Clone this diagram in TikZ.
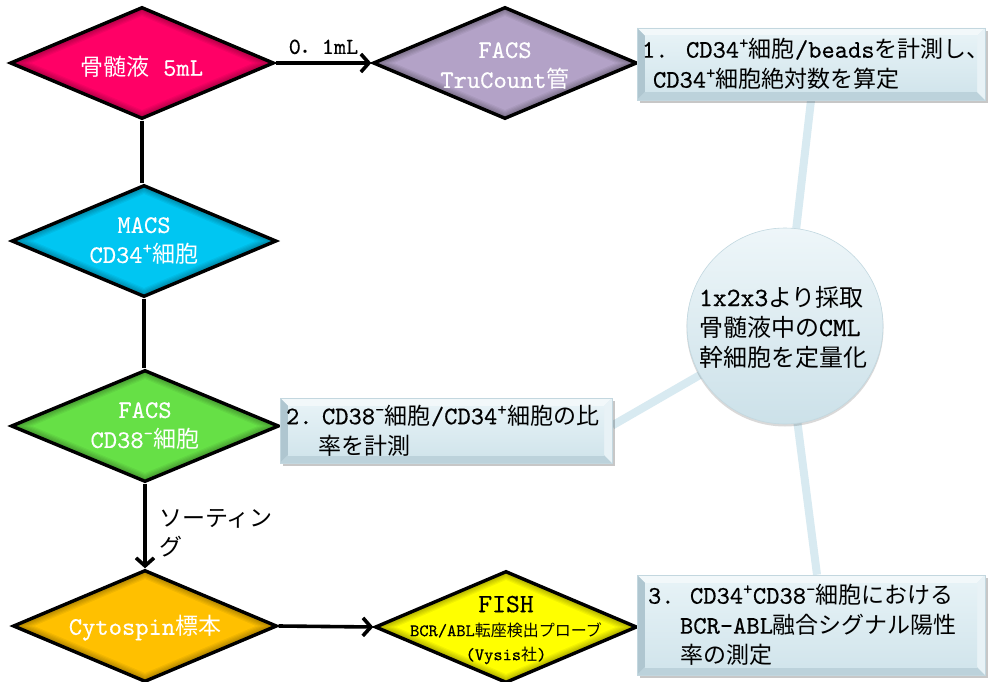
\documentclass[tikz,border=0pt]{standalone}
\usepackage{fontspec}
\newfontfamily\cjk{Noto Sans CJK JP}
\setmonofont{lmmono10-regular.otf}[Scale=1.1,FakeBold=0.4]
\usetikzlibrary{shapes.geometric,arrows.meta,backgrounds,calc}
\newcommand\J[1]{{\cjk #1}}
\newcommand\sps{\textsuperscript{+}}
\newcommand\smn{\textsuperscript{-}}
\definecolor{pinkc}{HTML}{FF0066}
\definecolor{lavc}{HTML}{B3A2C7}
\definecolor{cyanc}{HTML}{00C6F2}
\definecolor{greenc}{HTML}{66E046}
\definecolor{orangec}{HTML}{FFC000}
\definecolor{yellowc}{HTML}{FFFF00}
\definecolor{spokec}{HTML}{D8EAF1}
\definecolor{faceT}{HTML}{E6F2F6}
\definecolor{faceB}{HTML}{D2E5EC}
\definecolor{bevT}{HTML}{F2F8FA}
\definecolor{bevL}{HTML}{AFC6D0}
\definecolor{bevB}{HTML}{BCD2DB}
\definecolor{bevR}{HTML}{E8F2F6}
\definecolor{boxline}{HTML}{C3D7DF}
\definecolor{cirT}{HTML}{EEF6F9}
\definecolor{cirB}{HTML}{CCE1E9}
\definecolor{cirline}{HTML}{C2D8E0}
\newcommand\Dia[5]{%
  \foreach \k in {0,...,7}{%
    \pgfmathtruncatemacro\pc{65+5*\k}%
    \pgfmathsetmacro\ww{#4-6.1*\k}%
    \pgfmathsetmacro\hh{#5-2.6*\k}%
    \node[diamond, inner sep=0pt, outer sep=0pt, minimum width=\ww pt, minimum height=\hh pt, fill=#3!\pc!black] at (#2) {};
  }%
  \node[diamond, inner sep=0pt, minimum width=#4pt, minimum height=#5pt, draw=black, line width=3.4pt] (#1) at (#2) {};
}
\begin{document}
\begin{tikzpicture}[x=1pt,y=-1pt,
  conn/.style={draw=black, line width=3.6pt},
  arr/.style={conn, -{Straight Barb[length=8pt,width=18pt]}},
  dtext/.style={font=\ttfamily\fontsize{23}{30}\selectfont, text=white, align=center, inner sep=0pt},
  btext/.style={font=\ttfamily\fontsize{23}{30}\selectfont, text=black, align=left},
  spoke/.style={draw=spokec, line width=8pt},
  shadowc/.style={fill=black, opacity=0.22},
  bevbox/.style={rectangle, draw=boxline, line width=0.6pt, fill=faceB, inner ysep=0pt,
    path picture={
      \path (path picture bounding box.south west) coordinate (bvsw)
            (path picture bounding box.north east) coordinate (bvne)
            (bvsw|-bvne) coordinate (bvnw)
            (bvne|-bvsw) coordinate (bvse);
      \path ($(bvnw)+(8pt,-8pt)$) coordinate (ivnw)
            ($(bvne)+(-8pt,-8pt)$) coordinate (ivne)
            ($(bvsw)+(8pt,8pt)$) coordinate (ivsw)
            ($(bvse)+(-8pt,8pt)$) coordinate (ivse);
      \fill[bevT] (bvnw) -- (bvne) -- (ivne) -- (ivnw) -- cycle;
      \fill[bevL] (bvnw) -- (ivnw) -- (ivsw) -- (bvsw) -- cycle;
      \fill[bevB] (bvsw) -- (ivsw) -- (ivse) -- (bvse) -- cycle;
      \fill[bevR] (bvne) -- (bvse) -- (ivse) -- (ivne) -- cycle;
      \shade[top color=faceT, bottom color=faceB] (ivnw) rectangle (ivse);
    }},
]
\useasboundingbox (0,0) rectangle (988,682);

% diamonds
\Dia{bm}{142,63}{pinkc}{264}{112}
\Dia{tc}{505,63}{lavc}{264}{112}
\Dia{mc}{144,241}{cyanc}{265}{112}
\Dia{fc}{145,426}{greenc}{268}{112}
\Dia{cy}{145,626}{orangec}{264}{112}
\Dia{fi}{506,627}{yellowc}{262}{112}

\node[dtext] (bm-t) at (142,67) {\J{骨髄液} 5mL};
\node[dtext] (tc-t) at (505,66) {FACS\\TruCount\J{管}};
\node[dtext] (mc-t) at (144,241) {MACS\\CD34\sps\J{細胞}};
\node[dtext] (fc-t) at (145,426) {FACS\\CD38\smn\J{細胞}};
\node[dtext] (cy-t) at (145,628) {Cytospin\J{標本}};
\node[font=\ttfamily\fontsize{16}{24}\selectfont, align=center, inner sep=0pt, text=black] (fi-t) at (506,630)
  {{\fontsize{24}{24}\selectfont FISH}\\BCR/ABL\J{転座検出プローブ}\\(Vysis\J{社})};

% boxes
\node[bevbox, btext, minimum width=348pt, minimum height=72pt, text width=338pt, inner xsep=5pt] (b1) at (811,64)
  {\makebox[44pt][l]{1.}CD34\sps\J{細胞}/beads\J{を計測し、}\\\hspace*{11pt}CD34\sps\J{細胞絶対数を算定}};
\node[bevbox, btext, minimum width=332pt, minimum height=65pt, text width=320pt, inner xsep=6pt] (b2) at (446,430.5)
  {\makebox[36pt][l]{2.}CD38\smn\J{細胞}/CD34\sps\J{細胞の比}\\\hspace*{32pt}\J{率を計測}};
\node[bevbox, btext, minimum width=348pt, minimum height=100pt, text width=326pt, inner xsep=11pt] (b3) at (811,625)
  {\makebox[42pt][l]{3.}CD34\sps CD38\smn\J{細胞における}\\\hspace*{32pt}BCR-ABL\J{融合シグナル陽性}\\\hspace*{32pt}\J{率の測定}};

% circle
\node[circle, minimum size=196pt, inner sep=0pt, top color=cirT, bottom color=cirB, draw=cirline, line width=0.6pt] (ci) at (785,326) {};
\node[font=\ttfamily\fontsize{24}{30}\selectfont, align=left, inner sep=0pt] (ci-t) at (783,327)
  {1x2x3\J{より採取}\\\J{骨髄液中の}CML\\\J{幹細胞を定量化}};

% connectors
\draw[arr] (bm.east) -- node[midway, above=7pt, font=\ttfamily\fontsize{21}{24}\selectfont, inner sep=0pt] (l01) {0\J{．}1mL} (tc.west);
\draw[conn] (bm.south) -- (bm.south |- mc.north);
\draw[conn] (mc.south) -- (mc.south |- fc.north);
\draw[arr] (fc.south) -- (fc.south |- cy.north);
\draw[arr] (cy.east) -- (fi.west);
\node[font=\fontsize{23}{29}\selectfont, align=left, anchor=north west, inner sep=0pt] (sort) at (159,509) {\J{ソーティン}\\\J{グ}};

\begin{pgfonlayer}{background}
  \fill[white] (0,0) rectangle (988,682);
  \draw[spoke] (ci.center) -- (b1.south);
  \draw[spoke] (ci.center) -- ([xshift=6pt]b3.north);
  \draw[spoke] (ci.center) -- ([yshift=5pt]b2.east);
  \fill[shadowc] ([shift={(3pt,-3pt)}]b1.south west) rectangle ([shift={(3pt,-3pt)}]b1.north east);
  \fill[shadowc] ([shift={(3pt,-3pt)}]b2.south west) rectangle ([shift={(3pt,-3pt)}]b2.north east);
  \fill[shadowc] ([shift={(3pt,-3pt)}]b3.south west) rectangle ([shift={(3pt,-3pt)}]b3.north east);
  \fill[black, opacity=0.15] ([yshift=-2pt]ci.center) circle (98.5pt);
\end{pgfonlayer}
\end{tikzpicture}
\end{document}
